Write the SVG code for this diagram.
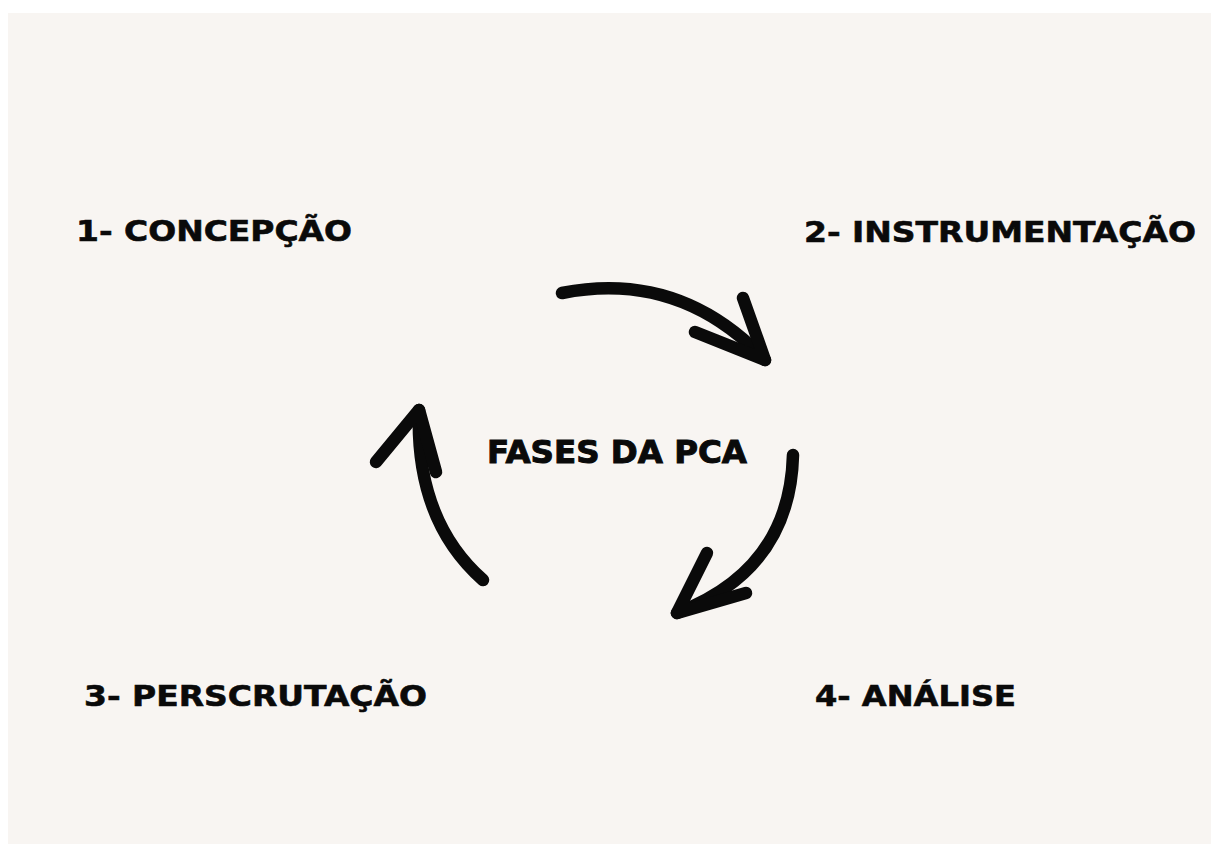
<svg xmlns="http://www.w3.org/2000/svg" width="1211" height="844" viewBox="0 0 1211 844">
  <style>
    .lbl { font-family: "DejaVu Sans", "Liberation Sans", sans-serif; font-weight: bold; font-size: 29px; fill: #0a0a0a; stroke: #0a0a0a; stroke-width: 0.6px; }
    .title { font-family: "DejaVu Sans", "Liberation Sans", sans-serif; font-weight: bold; font-size: 32px; fill: #0a0a0a; stroke: #0a0a0a; stroke-width: 1px; }
    .arr { fill: none; stroke: #0a0a0a; stroke-width: 12.5; stroke-linecap: round; stroke-linejoin: round; }
  </style>
  <rect x="0" y="0" width="1211" height="844" fill="#ffffff"/>
  <rect x="8" y="13" width="1203" height="831" fill="#f8f5f2"/>

  <g id="node-concepcao">
    <text class="lbl" x="76" y="241" textLength="276" lengthAdjust="spacingAndGlyphs">1- CONCEPÇÃO</text>
  </g>
  <g id="node-instrumentacao">
    <text class="lbl" x="804" y="242" textLength="392" lengthAdjust="spacingAndGlyphs">2- INSTRUMENTAÇÃO</text>
  </g>
  <g id="node-perscrutacao">
    <text class="lbl" x="84" y="706" textLength="343" lengthAdjust="spacingAndGlyphs">3- PERSCRUTAÇÃO</text>
  </g>
  <g id="node-analise">
    <text class="lbl" x="815" y="706" textLength="201" lengthAdjust="spacingAndGlyphs">4- ANÁLISE</text>
  </g>
  <g id="node-center">
    <text class="title" x="487" y="463" textLength="260" lengthAdjust="spacingAndGlyphs">FASES DA PCA</text>
  </g>

  <g id="connectors">
    <path class="arr" d="M562,293 Q680,270 765,360"/>
    <path class="arr" d="M743,298 L765,360 L695,332"/>
    <path class="arr" d="M793,455 Q790,570 677,613"/>
    <path class="arr" d="M707,553 L677,613 L746,593"/>
    <path class="arr" d="M483,580 Q415,520 419,410"/>
    <path class="arr" d="M376,462 L419,410 L436,472"/>
  </g>
</svg>
